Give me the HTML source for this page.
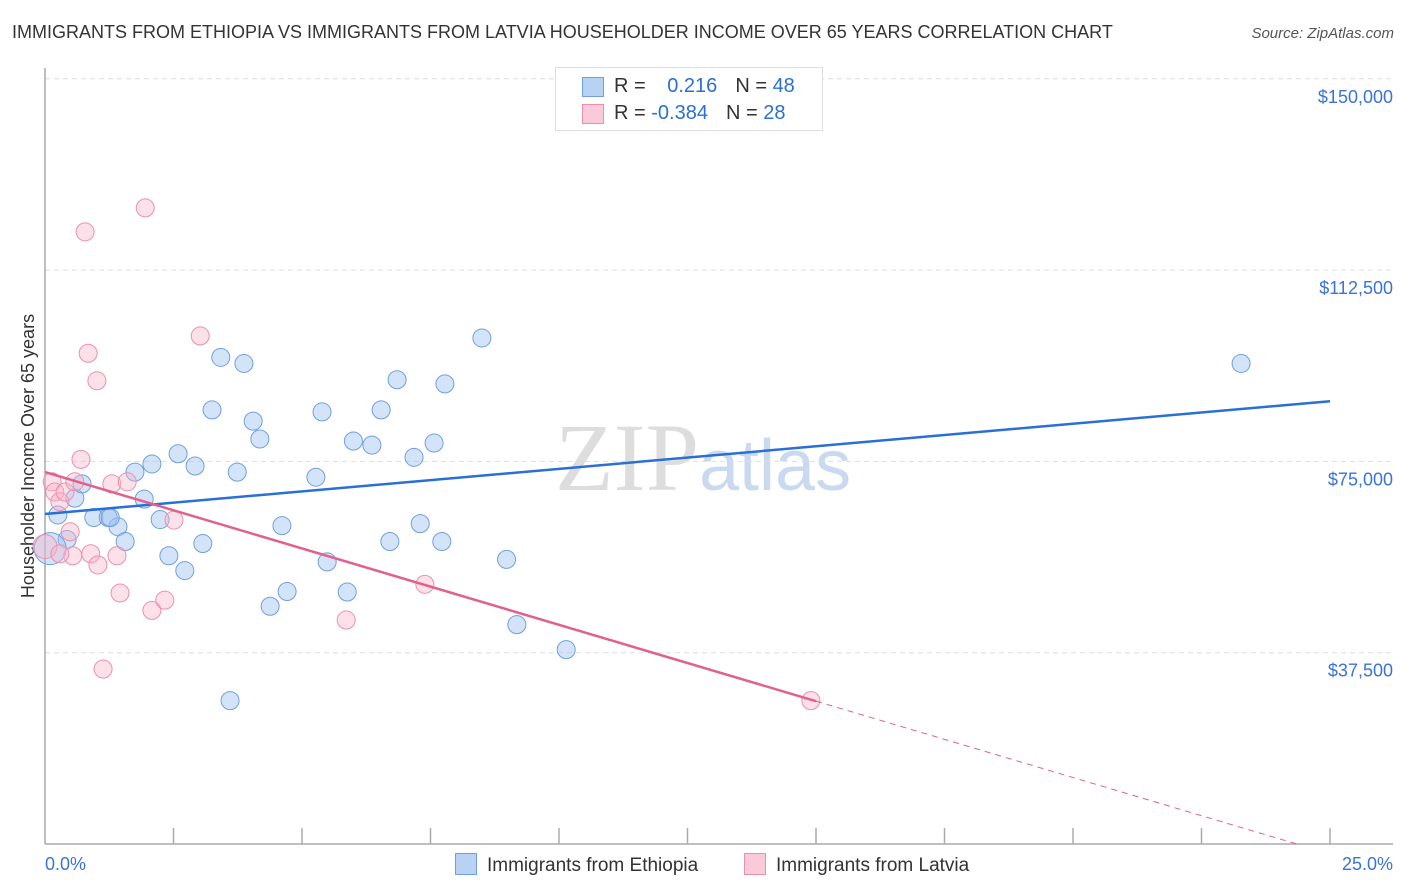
<!DOCTYPE html>
<html><head><meta charset="utf-8">
<style>
body{margin:0;background:#fff;font-family:"Liberation Sans",sans-serif;}
#wrap{position:relative;width:1406px;height:892px;overflow:hidden;}
.t{position:absolute;white-space:nowrap;}
</style></head>
<body>
<div id="wrap">
<div class="t" style="left:12px;top:22px;font-size:18px;color:#333;">IMMIGRANTS FROM ETHIOPIA VS IMMIGRANTS FROM LATVIA HOUSEHOLDER INCOME OVER 65 YEARS CORRELATION CHART</div>
<div class="t" style="right:12px;top:25px;font-size:15px;color:#555;font-style:italic;">Source: ZipAtlas.com</div>
<svg id="svg" width="1406" height="892" style="position:absolute;left:0;top:0"></svg>
</div>
<script>
const yTickValues=[37500,75000,112500,150000];
const yTickLabels=["$37,500","$75,000","$112,500","$150,000"];
const xTickLabels=["0.0%","25.0%"];
const ethX=[0.25,0.58,0.72,0.43,0.1,0.95,1.23,1.42,1.56,1.75,1.93,2.08,2.24,2.41,2.59,2.72,2.92,3.07,3.25,3.42,3.74,3.87,4.05,4.18,4.38,4.61,4.71,5.27,5.39,5.49,5.88,6.0,6.36,6.54,6.71,6.85,7.18,7.3,7.57,7.72,7.78,8.5,8.98,9.18,10.14,3.6,23.27,1.27];
const ethY=[64500,67800,70600,59700,57900,64000,64000,62200,59300,72900,67600,74500,63600,56500,76500,53600,74100,58900,85100,95400,72900,94200,82900,79400,46600,62400,49500,71900,84700,55300,49400,79000,78200,85100,59300,91000,75800,62800,78600,59300,90200,99200,55800,43000,38100,28100,94200,64000];
const latX=[0,0.14,0.19,0.29,0.39,0.49,0.58,0.54,0.7,0.78,0.84,0.89,1.01,1.03,1.13,1.3,1.4,1.46,1.6,1.95,2.08,2.33,2.51,3.02,5.86,7.39,14.9,0.29];
const latY=[58300,71000,69000,67100,69000,61200,71000,56500,75400,120000,96200,56900,90800,54700,34300,70600,56500,49200,71000,124700,45800,47800,63500,99600,43900,50900,28100,56900];
const ethTrend=[64700,86800];
const latTrend=[72900,28000];
const latSolidEnd=15.0;

const NS="http://www.w3.org/2000/svg";
const svg=document.getElementById('svg');
const X0=45,X1=1330,Y0=844,PXV=191.3/37500;
const sx=v=>X0+v/25*(X1-X0);
const sy=v=>Y0-v*PXV;
function mk(tag,attrs,parent){const e=document.createElementNS(NS,tag);for(const k in attrs)e.setAttribute(k,attrs[k]);(parent||svg).appendChild(e);return e;}

// watermark
let wm=mk('text',{x:555,y:490,'font-size':96,fill:'#ddd','font-family':'Liberation Serif, serif'});


wm.innerHTML='ZIP<tspan fill="#c9daf0" font-family="Liberation Sans, sans-serif" font-size="72">atlas</tspan>';

// gridlines + y labels
yTickValues.forEach((v,i)=>{
  const g=mk('line',{x1:X0,x2:1393,y1:sy(v),y2:sy(v),stroke:'#ddd','stroke-dasharray':'5,4'});
  
  
  const t=mk('text',{x:1393,y:sy(v)+24,'text-anchor':'end','font-size':18,fill:'#3a74d6'});
  
  
  t.textContent=yTickLabels[i];
});
// axes
let ya=mk('line',{x1:X0,x2:X0,y1:68,y2:Y0,stroke:'#aaa','stroke-width':1.5});


let xa=mk('line',{x1:X0,x2:1393,y1:Y0,y2:Y0,stroke:'#aaa','stroke-width':1.5});


for(let i=1;i<=10;i++){
  const tk=mk('line',{x1:sx(i*2.5),x2:sx(i*2.5),y1:828,y2:Y0,stroke:'#aaa','stroke-width':1.5});
  
  
}
[[0,45,'start'],[1,1393,'end']].forEach(([i,x,a])=>{
  const t=mk('text',{x:x,y:870,'text-anchor':a,'font-size':18,fill:'#3a74d6'});
  
  
  t.textContent=xTickLabels[i];
});
let yt=mk('text',{x:0,y:0,transform:'translate(34,456) rotate(-90)','text-anchor':'middle','font-size':18,fill:'#333'});


yt.textContent='Householder Income Over 65 years';

// points
ethX.forEach((x,i)=>{
  const big=(i===4);
  const c=mk('circle',{cx:sx(x),cy:sy(ethY[i]),r:big?16:9,fill:'rgba(160,195,240,0.45)',stroke:'#6f9fe0','stroke-width':1});
  
  
});
latX.forEach((x,i)=>{
  const big=(i===0);
  const c=mk('circle',{cx:sx(x),cy:sy(latY[i]),r:big?12:9,fill:'rgba(248,180,200,0.4)',stroke:'#ec8fae','stroke-width':1});
  
  
});
// trend lines
let bl=mk('line',{x1:sx(0),y1:sy(ethTrend[0]),x2:sx(25),y2:sy(ethTrend[1]),stroke:'#2a6fd6','stroke-width':2.5});


const lv=x=>latTrend[0]+(latTrend[1]-latTrend[0])*x/latSolidEnd;
const zeroX=latTrend[0]/(latTrend[0]-latTrend[1])*latSolidEnd;
let pl=mk('line',{x1:sx(0),y1:sy(lv(0)),x2:sx(latSolidEnd),y2:sy(lv(latSolidEnd)),stroke:'#e0608e','stroke-width':2.5});


let pd=mk('line',{x1:sx(latSolidEnd),y1:sy(lv(latSolidEnd)),x2:sx(zeroX),y2:sy(0),stroke:'#e0608e','stroke-width':1,'stroke-dasharray':'6,5'});


</script>
<div class="t" style="left:555px;top:67px;width:266px;height:62px;border:1px solid #ddd;background:#fff;font-size:20px;color:#333;">
  <div style="position:absolute;left:26px;top:9px;width:20px;height:18px;background:#b8d2f4;border:1px solid #6f9fe0"></div>
  <div style="position:absolute;left:58px;top:7px">R = <span style="color:#2a6fd6;margin-left:16px">0.216</span><span style="margin-left:18px">N = </span><span style="color:#2a6fd6">48</span></div>
  <div style="position:absolute;left:26px;top:36px;width:20px;height:18px;background:#fbcad8;border:1px solid #ec8fae"></div>
  <div style="position:absolute;left:58px;top:34px">R = <span style="color:#2a6fd6">-0.384</span><span style="margin-left:18px">N = </span><span style="color:#2a6fd6">28</span></div>
</div>
<div class="t" style="left:455px;top:853px;font-size:19px;color:#333;"><span style="display:inline-block;width:20px;height:20px;background:#b8d2f4;border:1px solid #6f9fe0;vertical-align:-4px;margin-right:10px"></span>Immigrants from Ethiopia</div>
<div class="t" style="left:744px;top:853px;font-size:19px;color:#333;"><span style="display:inline-block;width:20px;height:20px;background:#fbcad8;border:1px solid #ec8fae;vertical-align:-4px;margin-right:10px"></span>Immigrants from Latvia</div>
</body></html>
